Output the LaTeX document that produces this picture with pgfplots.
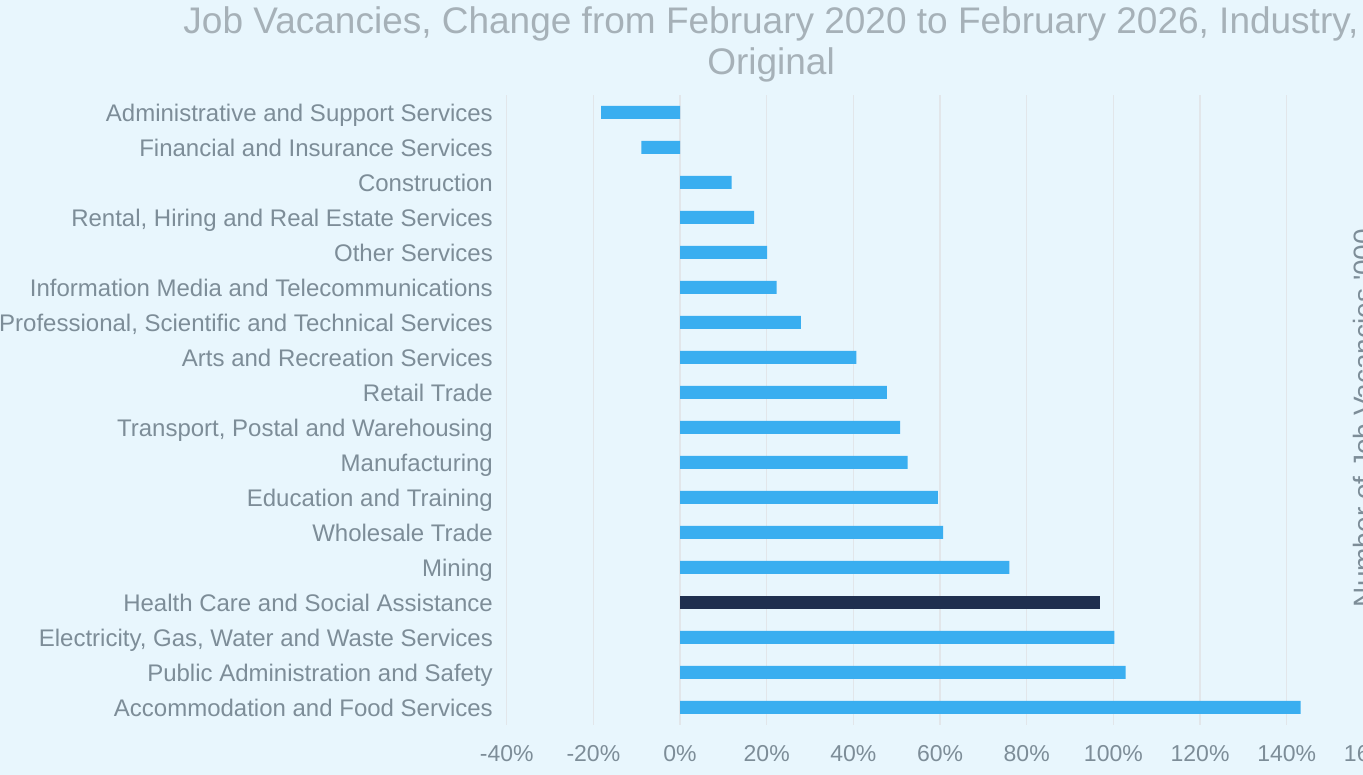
\documentclass[border=0pt]{standalone}
\usepackage{fontspec}
\setmainfont{Liberation Sans}
\usepackage{pgfplots}
\pgfplotsset{compat=1.18}
\definecolor{bg}{HTML}{E8F6FD}
\definecolor{barblue}{HTML}{3AAEF0}
\definecolor{bardark}{HTML}{1F2F4F}
\definecolor{gridc}{HTML}{E2E6EA}
\definecolor{labelc}{HTML}{7D8D98}
\definecolor{titlec}{HTML}{A6B1B8}
\begin{document}
\begin{tikzpicture}
\fill[bg] (0pt,0pt) rectangle (1363pt,775pt);
\useasboundingbox (0pt,0pt) rectangle (1363pt,775pt);
\begin{scope}
\clip (0pt,0pt) rectangle (1363pt,775pt);
\begin{axis}[
  at={(506.7pt,50pt)}, anchor=south west,
  scale only axis, width=866.7pt, height=630pt,
  xmin=-40, xmax=160, ymin=-0.5, ymax=17.5,
  xbar, bar width=13pt, bar shift=0pt,
  axis line style={draw=none},
  major tick length=0pt,
  xmajorgrids, grid style={color=gridc, line width=1.3pt},
  xtick={-40,-20,0,20,40,60,80,100,120,140,160},
  xticklabels={-40\%,-20\%,0\%,20\%,40\%,60\%,80\%,100\%,120\%,140\%,160\%},
  xticklabel style={anchor=base, inner sep=0pt, yshift=-37pt, font=\fontsize{23}{27}\selectfont, text=labelc},
  ytick={0,...,17},
  yticklabels={Accommodation and Food Services,
    Public Administration and Safety,
    {Electricity, Gas, Water and Waste Services},
    Health Care and Social Assistance,
    Mining,
    Wholesale Trade,
    Education and Training,
    Manufacturing,
    {Transport, Postal and Warehousing},
    Retail Trade,
    Arts and Recreation Services,
    {Professional, Scientific and Technical Services},
    Information Media and Telecommunications,
    Other Services,
    {Rental, Hiring and Real Estate Services},
    Construction,
    Financial and Insurance Services,
    Administrative and Support Services},
  yticklabel style={anchor=base east, inner sep=0pt, xshift=-13.7pt, yshift=-8.6pt, font=\fontsize{24}{28}\selectfont, text=labelc},
]
\addplot[fill=barblue, draw=none] coordinates {
  (143.2,0) (102.8,1) (100.2,2) (76.0,4) (60.7,5) (59.5,6) (52.5,7)
  (50.8,8) (47.7,9) (40.7,10) (27.9,11) (22.3,12) (20.1,13) (17.1,14)
  (11.9,15) (-8.9,16) (-18.2,17)
};
\addplot[fill=bardark, draw=none] coordinates {(96.9,3)};
\end{axis}
\node[anchor=base, text=titlec, font=\fontsize{37}{42}\selectfont] at (771pt,741.7pt) {Job Vacancies, Change from February 2020 to February 2026, Industry,};
\node[anchor=base, text=titlec, font=\fontsize{37}{42}\selectfont] at (771pt,700pt) {Original};
\node[rotate=90, anchor=base, text=labelc, font=\fontsize{28}{32}\selectfont] at (1373pt,357pt) {Number of Job Vacancies \textquotesingle000};
\end{scope}
\end{tikzpicture}
\end{document}
